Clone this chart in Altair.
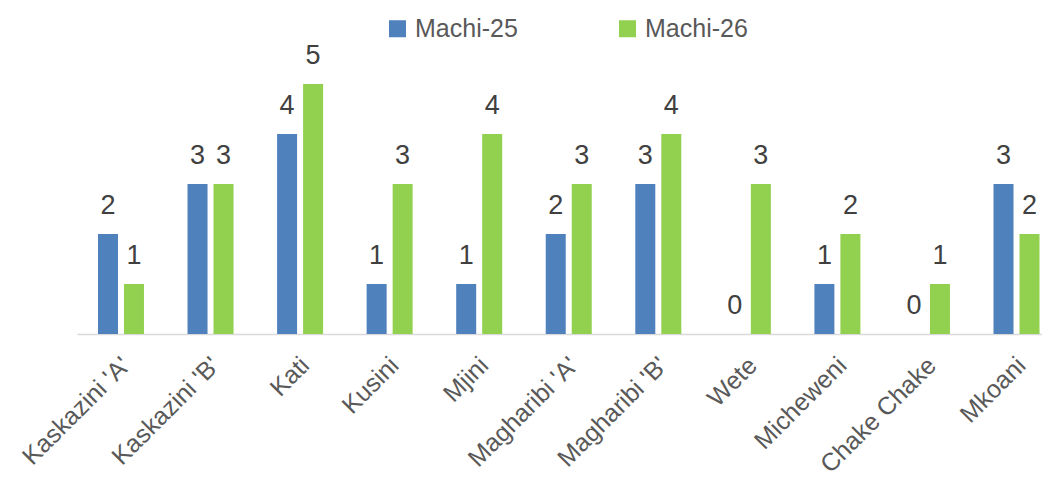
import altair as alt
import pandas as pd

categories = ["Kaskazini 'A'", "Kaskazini 'B'", "Kati", "Kusini", "Mjini",
              "Magharibi 'A'", "Magharibi 'B'", "Wete", "Micheweni",
              "Chake Chake", "Mkoani"]
series_names = ["Machi-25", "Machi-26"]
machi_25 = [2, 3, 4, 1, 1, 2, 3, 0, 1, 0, 3]
machi_26 = [1, 3, 5, 3, 4, 3, 4, 3, 2, 1, 2]
colors = ["#4F81BD", "#92D050"]

rows = []
for c, a, b in zip(categories, machi_25, machi_26):
    rows.append({"Wilaya": c, "Series": series_names[0], "Value": a})
    rows.append({"Wilaya": c, "Series": series_names[1], "Value": b})
df = pd.DataFrame(rows)

x_enc = alt.X("Wilaya:N", sort=categories,
              scale=alt.Scale(paddingInner=0.4863, paddingOuter=0.131, align=0.894),
              axis=alt.Axis(title=None, labelAngle=-45, labelAlign="right",
                            labelBaseline="middle", labelFontSize=25,
                            labelColor="#595959", ticks=False,
                            domainColor="#D9D9D9", domainWidth=1.5,
                            labelPadding=27, labelOffset=5))
xo_enc = alt.XOffset("Series:N", sort=series_names,
                     scale=alt.Scale(paddingInner=0.2308, paddingOuter=0))
y_enc = alt.Y("Value:Q", scale=alt.Scale(domain=[0, 6], nice=False),
              axis=None)

bars = alt.Chart(df).mark_bar().encode(
    x=x_enc, xOffset=xo_enc, y=y_enc,
    color=alt.Color("Series:N", sort=series_names,
                    scale=alt.Scale(domain=series_names, range=colors),
                    legend=alt.Legend(title=None, orient="none",
                                      direction="horizontal",
                                      legendX=308, legendY=-18,
                                      symbolType="square", symbolSize=289,
                                      symbolStrokeWidth=0,
                                      labelFontSize=25, labelColor="#595959",
                                      labelOffset=5, columnPadding=97)),
)

labels = alt.Chart(df).mark_text(baseline="bottom", dy=-14, fontSize=27,
                                 color="#404040").encode(
    x=x_enc, xOffset=xo_enc, y=y_enc,
    text=alt.Text("Value:Q"),
)

chart = (bars + labels).properties(
    width=965, height=300,
    padding={"left": 69, "top": 26, "right": 0, "bottom": 140},
    autosize=alt.AutoSizeParams(type="none"),
).configure(font="Liberation Sans").configure_view(stroke=None)

chart.save("out.html", embed_options={"renderer": "svg", "actions": False})
